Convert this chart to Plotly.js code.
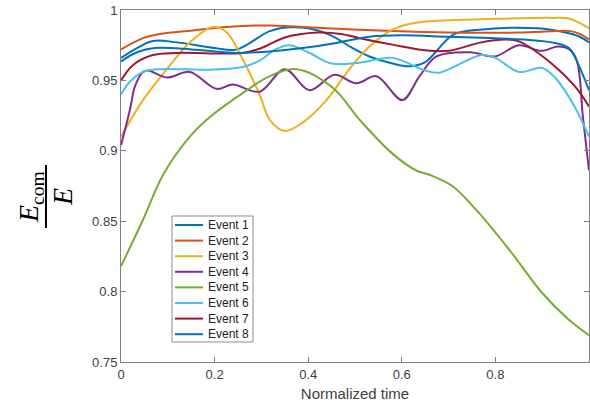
<!DOCTYPE html>
<html>
<head>
<meta charset="utf-8">
<script src="https://cdn.plot.ly/plotly-3.0.1.min.js"></script>
<style>
  html, body { margin: 0; padding: 0; background: #ffffff; }
  #chart { width: 590px; height: 406px; }
</style>
</head>
<body>
<div id="chart"></div>
<script>
// ---- Data ----
const eventNames = ["Event 1", "Event 2", "Event 3", "Event 4", "Event 5", "Event 6", "Event 7", "Event 8"];
const eventColors = ["#0072BD", "#D95319", "#EDB120", "#7E2F8E", "#77AC30", "#4DBEEE", "#A2142F", "#0072BD"];

const ev1X = [0, 0.034, 0.068, 0.12, 0.2, 0.247, 0.318, 0.36, 0.40, 0.445, 0.495, 0.531, 0.58, 0.616, 0.65, 0.71, 0.765, 0.89, 0.95, 0.98, 1.0];
const ev1Y = [0.966, 0.973, 0.978, 0.977, 0.973, 0.972, 0.985, 0.9877, 0.987, 0.9825, 0.973, 0.967, 0.962, 0.960, 0.963, 0.9825, 0.986, 0.987, 0.984, 0.981, 0.977];

const ev2X = [0, 0.047, 0.083, 0.153, 0.226, 0.318, 0.44, 0.58, 0.7, 0.85, 0.93, 0.96, 0.98, 1.0];
const ev2Y = [0.972, 0.980, 0.983, 0.9855, 0.988, 0.989, 0.987, 0.985, 0.984, 0.984, 0.985, 0.985, 0.983, 0.979];

const ev3X = [0, 0.047, 0.098, 0.147, 0.196, 0.226, 0.26, 0.296, 0.318, 0.35, 0.388, 0.439, 0.488, 0.531, 0.58, 0.616, 0.659, 0.8, 0.92, 0.957, 0.979, 1.0];
const ev3Y = [0.910, 0.936, 0.958, 0.977, 0.988, 0.984, 0.965, 0.940, 0.922, 0.914, 0.920, 0.936, 0.958, 0.974, 0.986, 0.990, 0.992, 0.9937, 0.9944, 0.994, 0.991, 0.987];

const ev4X = [0, 0.019, 0.030, 0.047, 0.058, 0.098, 0.147, 0.204, 0.239, 0.296, 0.350, 0.403, 0.456, 0.503, 0.546, 0.601, 0.638, 0.674, 0.746, 0.799, 0.850, 0.898, 0.934, 0.958, 0.974, 0.987, 1.0];
const ev4Y = [0.904, 0.929, 0.946, 0.956, 0.957, 0.952, 0.956, 0.944, 0.947, 0.942, 0.958, 0.943, 0.954, 0.948, 0.953, 0.936, 0.953, 0.967, 0.970, 0.967, 0.975, 0.971, 0.974, 0.972, 0.964, 0.924, 0.886];

const ev5X = [0, 0.047, 0.090, 0.147, 0.190, 0.260, 0.318, 0.375, 0.452, 0.510, 0.580, 0.631, 0.659, 0.708, 0.759, 0.829, 0.900, 0.957, 1.0];
const ev5Y = [0.818, 0.851, 0.883, 0.910, 0.924, 0.941, 0.953, 0.958, 0.945, 0.922, 0.898, 0.886, 0.883, 0.875, 0.858, 0.830, 0.799, 0.780, 0.769];

const ev6X = [0, 0.019, 0.047, 0.083, 0.19, 0.26, 0.296, 0.33, 0.36, 0.40, 0.45, 0.51, 0.58, 0.65, 0.68, 0.77, 0.80, 0.85, 0.90, 0.93, 0.97, 1.0];
const ev6Y = [0.940, 0.949, 0.956, 0.958, 0.9576, 0.9595, 0.964, 0.972, 0.975, 0.970, 0.962, 0.9626, 0.966, 0.957, 0.9555, 0.968, 0.966, 0.956, 0.9588, 0.951, 0.931, 0.910];

const ev7X = [0, 0.026, 0.068, 0.12, 0.26, 0.30, 0.35, 0.42, 0.47, 0.51, 0.58, 0.66, 0.70, 0.77, 0.82, 0.85, 0.92, 0.97, 1.0];
const ev7Y = [0.950, 0.961, 0.968, 0.9695, 0.9695, 0.973, 0.9805, 0.984, 0.983, 0.980, 0.9754, 0.971, 0.971, 0.977, 0.979, 0.9777, 0.962, 0.9457, 0.9315];

const ev8X = [0, 0.034, 0.072, 0.15, 0.22, 0.247, 0.318, 0.388, 0.46, 0.531, 0.6, 0.7, 0.8, 0.92, 0.957, 0.979, 1.0];
const ev8Y = [0.9635, 0.970, 0.973, 0.972, 0.970, 0.9695, 0.9706, 0.973, 0.9766, 0.981, 0.982, 0.981, 0.980, 0.977, 0.973, 0.960, 0.943];

const xTickVals = [0, 0.2, 0.4, 0.6, 0.8, 1];
const xTickText = ["0", "0.2", "0.4", "0.6", "0.8", " "];
const yTickVals = [0.75, 0.8, 0.85, 0.9, 0.95, 1];
const yTickText = ["0.75", "0.8", "0.85", "0.9", "0.95", "1"];

const xs = [ev1X, ev2X, ev3X, ev4X, ev5X, ev6X, ev7X, ev8X];
const ys = [ev1Y, ev2Y, ev3Y, ev4Y, ev5Y, ev6Y, ev7Y, ev8Y];

const traces = eventNames.map((name, i) => ({
  type: "scatter",
  mode: "lines",
  name: name,
  x: xs[i],
  y: ys[i],
  line: { color: eventColors[i], width: 2, shape: "spline", smoothing: 1 },
  hoverinfo: "skip"
}));

// ---- Layout helpers (pixel -> paper conversion for the plot box) ----
const W = 590, H = 406;
const M = { l: 121, r: 1, t: 10, b: 44 };
const plotW = W - M.l - M.r, plotH = H - M.t - M.b;
const px = (p) => (p - M.l) / plotW;
const py = (p) => (H - M.b - p) / plotH;

const axisColor = "#808080";
const sansFont = "Liberation Sans, Arial, sans-serif";
const tickFont = { family: sansFont, size: 13, color: "#404040" };

// Compact MATLAB-style legend box (row pitch 15.6 px)
const legRowPitch = 15.6, legFirstRow = 225;
const shapes = [
  { type: "rect", xref: "paper", yref: "paper", layer: "above",
    x0: px(172), x1: px(253), y0: py(342), y1: py(216),
    fillcolor: "#ffffff", line: { color: "#8c8c8c", width: 1 } },
  { type: "line", xref: "paper", yref: "paper", x0: px(46), x1: px(46), y0: py(228), y1: py(165),
    line: { color: "#000000", width: 2 } }
];
eventNames.forEach((name, i) => {
  const yy = py(legFirstRow + i * legRowPitch);
  shapes.push({ type: "line", xref: "paper", yref: "paper", layer: "above",
    x0: px(175), x1: px(203), y0: yy, y1: yy,
    line: { color: eventColors[i], width: 2 } });
});

const annotations = [
  { xref: "paper", yref: "paper", x: px(30), y: py(197), xanchor: "center", yanchor: "middle",
    text: "<i>E</i><sub>com</sub>", textangle: -90, showarrow: false,
    font: { family: "Liberation Serif, Times New Roman, serif", size: 28, color: "#000000" } },
  { xref: "paper", yref: "paper", x: px(62), y: py(197), xanchor: "center", yanchor: "middle",
    text: "<i>E</i>", textangle: -90, showarrow: false,
    font: { family: "Liberation Serif, Times New Roman, serif", size: 28, color: "#000000" } },
  { xref: "paper", yref: "paper", x: px(206), y: py(legFirstRow + 3.5 * legRowPitch),
    xanchor: "left", yanchor: "middle", align: "left", showarrow: false,
    text: eventNames.join("<br>"),
    font: { family: sansFont, size: 12, color: "#222222" } }
];

const layout = {
  width: W,
  height: H,
  margin: { l: M.l, r: M.r, t: M.t, b: M.b, pad: 0 },
  paper_bgcolor: "#ffffff",
  plot_bgcolor: "#ffffff",
  showlegend: false,
  xaxis: {
    range: [0, 1],
    tickvals: xTickVals,
    ticktext: xTickText,
    ticks: "inside",
    ticklen: 5,
    tickcolor: axisColor,
    showline: true,
    linecolor: axisColor,
    linewidth: 1,
    mirror: "ticks",
    showgrid: false,
    zeroline: false,
    tickfont: tickFont,
    title: { text: "Normalized time", font: { family: sansFont, size: 15, color: "#404040" }, standoff: 7 }
  },
  yaxis: {
    range: [0.75, 1],
    tickvals: yTickVals,
    ticktext: yTickText,
    ticks: "inside",
    ticklen: 5,
    tickcolor: axisColor,
    showline: true,
    linecolor: axisColor,
    linewidth: 1,
    mirror: "ticks",
    showgrid: false,
    zeroline: false,
    tickfont: tickFont
  },
  shapes: shapes,
  annotations: annotations
};

Plotly.newPlot("chart", traces, layout, { displayModeBar: false, staticPlot: true });
</script>
</body>
</html>
